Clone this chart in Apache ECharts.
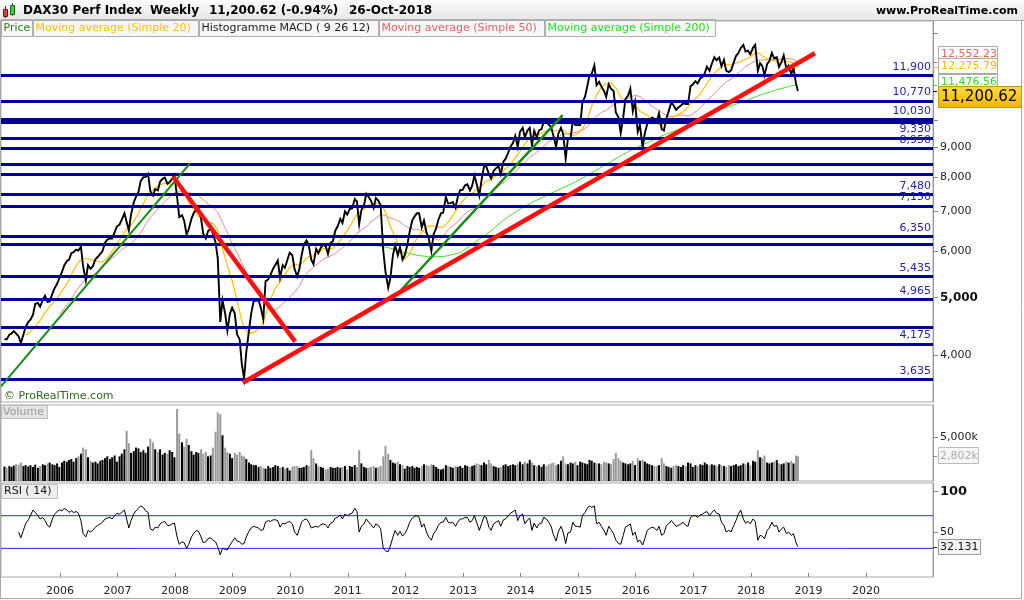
<!DOCTYPE html>
<html><head><meta charset="utf-8">
<script src="https://cdn.jsdelivr.net/npm/echarts@6/dist/echarts.min.js"></script>
<style>html,body{margin:0;padding:0;background:#fff;}#c{width:1024px;height:600px;}</style>
</head><body><div id="c"></div>
<script>
// ---- DATA (semi-monthly readings from the reference, Jan 2005 .. 26-Oct-2018) ----
const closes = [
4260,4250,4330,4350,4390,4350,4300,4190,4330,4460,4550,4590,4680,4880,4900,4830,4960,5040,4920,4930,5080,5190,5280,5400,
5530,5670,5770,5800,5950,5970,6030,6010,6100,5650,5350,5680,5600,5650,5810,5860,5930,6000,6200,6270,6300,6300,6460,6600,
6650,6780,6950,6720,6500,6920,7250,7410,7550,7880,8000,8010,8100,7580,7450,7640,7600,7860,7950,7990,7800,7850,7950,8070,
7400,6850,6900,6750,6400,6530,6800,6950,7050,7100,6800,6420,6300,6480,6550,6420,6200,5830,4550,4950,4700,4400,4700,4810,
4700,4340,4250,3850,3650,4050,4400,4700,4940,4940,4950,4810,4600,5330,5370,5460,5600,5680,5780,5410,5680,5620,5800,5960,
5900,5600,5430,5600,5900,6150,6250,6140,5800,5700,6050,5950,6080,6150,6110,5930,6200,6230,6500,6600,6800,6690,7000,6914,
7070,7080,7350,7270,6660,7040,7180,7500,7400,7300,7100,7380,7300,7160,6000,5530,5200,5400,5900,6140,5900,6090,5800,5900,
6150,6460,6760,6860,6950,6950,6580,6760,6450,6300,6000,6400,6550,6770,6950,6970,7410,7220,7230,7260,7100,7400,7610,7610,
7750,7780,7600,7740,8050,7800,7450,7900,8350,8350,8100,7960,8200,8280,8350,8100,8500,8600,8800,9000,9150,9400,9000,9550,
9700,9350,9600,9700,9050,9590,9350,9600,9650,9940,9920,9830,9720,9400,9010,9470,9700,9470,8600,9300,9300,9980,9800,9800,
9800,10700,10960,11400,11900,11970,12370,11450,11600,11400,11200,10940,11500,11300,11200,10300,10100,9500,10100,10850,11000,11300,10340,10740,
9550,9800,8970,9500,9830,9970,10100,10050,9950,10260,9650,9600,10060,10340,10710,10590,10400,10500,10580,10670,10640,10640,11400,11480,
11630,11530,11760,11830,12000,12310,12110,12450,12770,12620,12750,12330,12640,12120,12050,12140,12520,12830,12990,13230,13400,13060,13100,12920,
13250,13400,12110,12480,12350,11900,12440,12580,12990,12720,12770,12300,12540,12860,12210,12360,11960,12250,11520,11200.62
];
const volumes = [ // thousands
1650,1500,1700,1600,1750,1900,1850,2100,1700,1800,1650,1800,1600,1850,1500,1700,1900,1800,2000,2100,1900,1800,2000,1600,
2100,2300,2200,2400,2500,2200,2600,2800,3100,3800,3600,2700,2300,2100,2200,2000,2300,2400,2600,2800,2500,2700,2900,2200,
2800,3100,3600,5700,4300,3200,3400,3800,3700,3300,3500,3200,3900,4800,4400,3600,3300,3600,3000,3200,3100,3500,3300,2700,
8200,5400,4400,3900,4800,4100,3400,3000,3300,3200,3600,3100,3300,2800,2900,3800,5600,7800,7600,5200,3800,3300,3100,2600,
3200,3000,3300,2900,2800,2500,2100,1900,1800,1800,1600,1700,1500,1400,1700,1500,1600,1800,1700,1500,1600,1400,1500,1200,
1600,1700,1700,1500,1500,1600,1800,1700,3500,2600,2000,1700,1600,1500,1300,1400,1600,1500,1500,1600,1500,1600,1700,1300,
1700,1600,1800,1600,3500,2000,1600,1500,1500,1600,1700,1500,1600,1700,2800,4000,3100,2400,2100,2000,2200,1900,1800,1400,
1700,1600,1700,1500,1600,1500,1700,1900,1800,1700,1900,1800,1600,1400,1300,1400,1800,1700,1600,1500,1700,1600,1700,1500,
1800,1700,1600,1700,1800,2000,1900,1800,2100,1900,2400,2000,1700,1600,1500,1600,1800,1900,1700,1800,1900,1800,2000,2200,
1900,2200,2000,2400,2100,1800,1700,1800,1600,1900,1700,1900,2000,2100,1800,1900,2300,2800,2000,1900,2100,2000,2200,1800,
2200,2100,2000,1900,2400,2300,2100,2000,2000,1900,2200,2100,2000,1900,2500,3200,2600,2300,2100,2000,1900,2000,2300,1800,
2600,2300,2400,2200,2000,1900,1800,1700,1700,1800,2600,2000,1700,1600,1500,1700,1800,1700,1600,1800,1700,2100,2000,1600,
1800,1700,1900,1800,2100,1900,1800,1900,1800,1700,1900,1800,1700,1600,1800,1700,1800,1900,1700,1800,2000,1900,2100,1800,
2300,2200,3500,2700,2600,2900,2100,2000,2100,2200,2400,2000,1900,2000,2200,2100,2300,2000,2900,2802
];
const rsiValues = [ // from Apr 2005 (semi-monthly)
50,43,52,60,65,70,77,74,70,66,68,64,58,56,66,72,75,77,
76,79,77,74,76,74,75,73,64,48,44,52,50,52,56,58,60,62,66,67,68,66,70,73,
72,74,77,66,55,64,72,76,79,82,80,76,74,54,52,56,55,60,62,63,58,58,60,61,
44,35,38,37,30,35,44,48,52,51,44,37,38,42,43,40,38,32,22,30,29,28,34,38,
43,39,38,35,36,44,51,55,57,56,55,52,53,62,64,63,65,65,64,56,61,60,62,63,
60,50,46,54,62,65,66,62,55,56,57,56,59,60,59,55,61,62,67,68,71,66,72,70,
72,73,79,75,50,57,60,66,62,59,55,60,58,54,30,27,26,33,44,52,46,51,45,48,
54,62,67,69,70,68,56,60,50,44,40,48,52,58,62,62,68,62,61,62,57,62,66,66,
68,68,62,64,70,62,52,60,69,68,56,52,60,62,64,57,65,66,70,73,75,77,64,70,
72,60,65,67,52,61,55,60,61,68,66,62,57,47,39,50,57,50,36,49,50,62,57,57,
56,70,74,79,82,80,82,60,62,57,52,46,57,53,48,40,36,35,46,56,58,60,46,50,
38,40,34,42,52,54,56,55,52,57,46,48,58,60,64,61,57,58,60,62,58,57,68,70,
70,68,71,72,74,75,70,74,77,73,72,62,58,50,52,50,58,64,72,77,66,61,63,60,
66,63,40,46,45,42,52,55,62,57,58,50,54,56,48,50,46,48,37,32.131
];
const ma20Values = [ // monthly from May 2005
4321,4384,4472,4571,4722,4828,4941,5053,
5200,5357,5564,5741,5833,5816,5784,5759,5748,5835,5992,6173,
6349,6523,6633,6839,7076,7334,7535,7687,7767,7818,7782,7816,
7732,7551,7250,7060,6873,6770,6683,6687,6515,6050,5673,5348,
4955,4562,4390,4355,4390,4462,4665,4970,5188,5319,5473,5636,
5703,5678,5764,5873,5888,5935,6055,6054,6058,6177,6329,6497,
6708,6927,7003,7122,7201,7234,7218,6987,6599,6333,6084,5808,
5914,6196,6382,6517,6619,6615,6585,6587,6716,6893,7086,7276,
7437,7508,7644,7729,7877,7930,8044,8104,8279,8389,8638,8845,
9105,9325,9409,9449,9553,9623,9605,9589,9611,9465,9418,9466,
9668,9987,10561,11015,11355,11519,11563,11326,10923,10718,10734,10562,
10347,10238,10123,9908,9821,9819,9989,10139,10214,10318,10513,10761,
10947,11216,11522,11850,12101,12293,12410,12401,12480,12563,12670,12796,
13018,12938,12761,12650,12606,12472,12551,12562,12493,12275.79
];
const ma50Values = [ // monthly from Dec 2005
4685,
4797,4918,5050,5198,5315,5394,5464,5545,5625,5735,5832,5931,
6024,6111,6180,6289,6449,6656,6841,6983,7130,7275,7402,7525,
7560,7559,7532,7494,7441,7325,7204,7115,6973,6704,6446,6175,
5958,5727,5513,5319,5141,4997,4886,4797,4766,4836,4913,5006,
5109,5231,5409,5546,5630,5723,5810,5860,5908,5988,6079,6169,
6279,6429,6504,6600,6716,6821,6914,6893,6825,6781,6719,6626,
6562,6520,6522,6466,6384,6304,6257,6355,6515,6617,6722,6868,
6990,7062,7143,7227,7393,7538,7670,7775,7878,8016,8185,8323,
8470,8635,8751,8901,9022,9175,9285,9370,9456,9470,9500,9544,
9605,9732,9950,10153,10295,10395,10548,10674,10700,10817,10943,11005,
10957,10804,10635,10482,10365,10248,10148,10140,10186,10199,10156,10231,
10390,10594,10782,10965,11181,11421,11603,11724,11910,12117,12320,12450,
12587,12627,12633,12653,12661,12662,12686,12700,12658,12552.23
];
const ma200Points = [
['2008-11-14',6118],['2009-03-14',6125],['2009-06-14',6140],['2009-09-14',6150],['2009-12-14',6155],
['2010-03-14',6160],['2010-06-14',6165],['2010-09-14',6165],['2010-12-14',6165],['2011-03-14',6160],
['2011-06-14',6140],['2011-09-14',6080],['2011-12-14',5980],['2012-03-14',5900],['2012-06-14',5860],
['2012-09-14',5880],['2012-12-14',5960],['2013-03-14',6200],['2013-06-14',6450],['2013-09-14',6760],
['2013-12-14',7030],['2014-03-14',7250],['2014-06-14',7450],['2014-09-14',7650],['2014-12-14',7850],
['2015-03-14',8100],['2015-06-14',8370],['2015-09-14',8650],['2015-12-14',8920],['2016-03-14',9150],
['2016-06-14',9400],['2016-09-14',9600],['2016-12-14',9850],['2017-03-14',10150],['2017-06-14',10400],
['2017-09-14',10600],['2017-12-14',10820],['2018-03-14',11050],['2018-06-14',11250],['2018-09-14',11420],
['2018-10-26',11476.56]
];
const levelValues = [11900,10770,10030,9900,9330,8950,8430,8080,7480,7150,6350,6160,5435,4965,4450,4175,3635];
const levelLabeled = [1,1,1,0,1,1,0,0,1,1,1,0,1,1,0,1,1];
const rsiBands = [70,30];
const redTrendUp = [['2009-03-06',3590],['2019-02-11',12970]];
const redTrendDown = [['2007-12-20',8014],['2010-02-01',4213]];
const greenTrend1 = [['2004-12-23',3540],['2008-04-05',8443]];
const greenTrend2 = [['2011-10-25',5015],['2014-09-25',10194]];
const yearTicks = [2006,2007,2008,2009,2010,2011,2012,2013,2014,2015,2016,2017,2018,2019,2020];
const priceTickLabels = [4000,5000,6000,7000,8000,9000];
const priceTickMarks = [4000,5000,6000,7000,8000,9000,10000,14000];
const lastClose = 11200.62, lastVolume = 2802, lastRsi = 32.131;

// ---- helpers ----
const FONT = 'DejaVu Sans';
function halfMonth(i){ if(i===closes.length-1) return Date.UTC(2018,9,26); const m=i>>1; return Date.UTC(2005+Math.floor(m/12), m%12, (i%2)?28:14); }
function monthly(startMonth, k, n){ if(k===n-1) return Date.UTC(2018,9,26); const m=startMonth+k; return Date.UTC(2005+Math.floor(m/12), m%12, 28); }
const fmt = v => v.toLocaleString('en-US');
const xMin = Date.UTC(2004,11,23), xMax = Date.UTC(2021,2,1);
const yearTs = yearTicks.map(y=>Date.UTC(y,0,1));

const priceData = closes.map((v,i)=>[halfMonth(i),v]);
const volData = volumes.map((v,i)=>({value:[halfMonth(i),v], itemStyle:{color:(i>0&&closes[i]<closes[i-1])?'#9a9a9a':'#000'}}));
const rsiData = rsiValues.map((v,i)=>[halfMonth(i+6),v]);
const ma20Data = ma20Values.map((v,k)=>[monthly(4,k,ma20Values.length),v]);
const ma50Data = ma50Values.map((v,k)=>[monthly(11,k,ma50Values.length),v]);
const ma200Data = ma200Points.map(p=>[Date.parse(p[0]),p[1]]);
const toXY = arr => arr.map(p=>[Date.parse(p[0]),p[1]]);

function xAxisCfg(gi, show){
  return {type:'value', gridIndex:gi, min:xMin, max:xMax, scale:true,
    axisLine:{show:false}, splitLine:{show:false},
    axisTick:{show:show, customValues:yearTs, length:4, lineStyle:{color:'#888'}},
    axisLabel:{show:show, customValues:yearTs, formatter:v=>String(new Date(v).getUTCFullYear()),
      color:'#222', fontFamily:FONT, fontSize:11, margin:9}};
}
const trendSeries = (data,color,width)=>({type:'line', xAxisIndex:0, yAxisIndex:0, data:toXY(data), showSymbol:false, silent:true,
  lineStyle:{color, width, cap:'butt'}, z:6, animation:false});

const chart = echarts.init(document.getElementById('c'));
chart.setOption({
  animation:false,
  backgroundColor:'#fff',
  textStyle:{fontFamily:FONT},
  grid:[
    {left:1, top:21, width:932, height:381, show:true, borderColor:'#aaa', borderWidth:1, backgroundColor:'#fff'},
    {left:1, top:405, width:932, height:76, show:true, borderColor:'#aaa', borderWidth:1},
    {left:1, top:483, width:932, height:94, show:true, borderColor:'#aaa', borderWidth:1}
  ],
  xAxis:[xAxisCfg(0,false), xAxisCfg(1,false), xAxisCfg(2,true)],
  yAxis:[
    {type:'log', logBase:10, gridIndex:0, position:'right', min:3330, max:14709,
     axisLine:{show:true, lineStyle:{color:'#999'}}, splitLine:{show:false}, minorTick:{show:false},
     axisTick:{show:true, customValues:priceTickMarks, length:5, lineStyle:{color:'#888'}},
     axisLabel:{customValues:priceTickLabels, margin:7, color:'#222', fontFamily:FONT, fontSize:11,
       formatter:v=> v===5000 ? '{b|5,000}' : fmt(v), rich:{b:{fontWeight:'bold', fontSize:12, color:'#111', fontFamily:FONT}}}},
    {type:'value', gridIndex:1, position:'right', min:0, max:8640,
     axisLine:{show:true, lineStyle:{color:'#999'}}, splitLine:{show:false},
     axisTick:{show:true, customValues:[5000], length:5, lineStyle:{color:'#888'}},
     axisLabel:{customValues:[5000], margin:7, color:'#222', fontFamily:FONT, fontSize:11, formatter:v=>fmt(v)+'k'}},
    {type:'value', gridIndex:2, position:'right', min:-5, max:110,
     axisLine:{show:true, lineStyle:{color:'#999'}}, splitLine:{show:false},
     axisTick:{show:true, customValues:[50,100], length:5, lineStyle:{color:'#888'}},
     axisLabel:{customValues:[50,100], margin:7, color:'#222', fontFamily:FONT, fontSize:11,
       formatter:v=> v===100 ? '{b|100}' : String(v), rich:{b:{fontWeight:'bold', fontSize:13, color:'#111', fontFamily:FONT}}}}
  ],
  series:[
    {name:'MA200', type:'line', xAxisIndex:0, yAxisIndex:0, data:ma200Data, showSymbol:false, silent:true, lineStyle:{color:'#44e02a', width:1}, z:2},
    {name:'MA50', type:'line', xAxisIndex:0, yAxisIndex:0, data:ma50Data, showSymbol:false, silent:true, lineStyle:{color:'#e88a8a', width:1}, z:2},
    {name:'MA20', type:'line', xAxisIndex:0, yAxisIndex:0, data:ma20Data, showSymbol:false, silent:true, lineStyle:{color:'#ffc000', width:1.2}, z:2},
    {name:'Price', type:'line', xAxisIndex:0, yAxisIndex:0, data:priceData, showSymbol:false, silent:true, lineStyle:{color:'#000', width:1.9, join:'miter'}, z:3},
    {name:'Levels', type:'line', xAxisIndex:0, yAxisIndex:0, data:[], silent:true, z:4,
     markLine:{symbol:'none', silent:true, animation:false,
       lineStyle:{color:'#000099', width:3, type:'solid'},
       label:{position:'insideEndTop', distance:[2,3], color:'#2323a8', fontFamily:FONT, fontSize:11, formatter:p=>fmt(p.value)},
       data:levelValues.map((v,i)=>({yAxis:v, label:{show:!!levelLabeled[i]}}))}},
    trendSeries(greenTrend1,'#178a17',2),
    trendSeries(greenTrend2,'#178a17',2.5),
    trendSeries(redTrendDown,'#ff1010',4.5),
    trendSeries(redTrendUp,'#ff1010',4.5),
    {name:'Volume', type:'bar', xAxisIndex:1, yAxisIndex:1, data:volData, barWidth:2, silent:true, z:2},
    ...rsiBands.map(b=>({type:'line', xAxisIndex:2, yAxisIndex:2, data:[[xMin,b],[xMax,b]], showSymbol:false, silent:true,
        lineStyle:{color:'#2a2ae8', width:1}, z:2})),
    {name:'RSI', type:'line', xAxisIndex:2, yAxisIndex:2, data:rsiData, showSymbol:false, silent:true, lineStyle:{color:'#000', width:1}, z:3}
  ]
});

// ---- annotations (title, legend, value boxes) ----
const g = [];
const txt = (x,y,text,font,fill,align)=>({type:'text', silent:true, z:100, style:{x, y, text, font, fill, align:align||'left', verticalAlign:'middle'}});
const rect = (x,y,w,h,fill,stroke,z)=>({type:'rect', silent:true, z:z||99, shape:{x,y,width:w,height:h}, style:{fill, stroke, lineWidth:1}});
const line = (x1,y1,x2,y2,stroke)=>({type:'line', silent:true, z:100, shape:{x1,y1,x2,y2}, style:{stroke, lineWidth:1}});
g.push({type:'rect', silent:true, z:98, shape:{x:0,y:0,width:1024,height:20},
  style:{fill:new echarts.graphic.LinearGradient(0,0,0,1,[{offset:0,color:'#fdfdfd'},{offset:1,color:'#e6e6e6'}]), stroke:'none'}});
g.push(line(0,20.5,1024,20.5,'#aaa'));
g.push(line(5.5,6,5.5,18,'#7a1010'), rect(3.5,9.5,4,7,'#e03a3a','#7a1010',101));
g.push(line(12.5,3,12.5,16,'#106a10'), rect(10.5,5.5,4,9,'#3ccc3c','#106a10',101));
const tf = 'bold 12px "DejaVu Sans"';
g.push(txt(23,11,'DAX30 Perf Index',tf,'#000'), txt(150,11,'Weekly',tf,'#000'),
       txt(209,11,'11,200.62 (-0.94%)',tf,'#000'), txt(349,11,'26-Oct-2018',tf,'#000'));
g.push(txt(1018,11,'www.ProRealTime.com','bold 11px "DejaVu Sans"','#000','right'));
const legend = [
  {x:1.5,w:31,t:'Price',c:'#2e7d1a'},
  {x:33.5,w:165,t:'Moving average (Simple 20)',c:'#ffc000'},
  {x:199.5,w:179,t:'Histogramme MACD ( 9 26 12)',c:'#1a1a1a'},
  {x:379.5,w:165,t:'Moving average (Simple 50)',c:'#e06464'},
  {x:545.5,w:170,t:'Moving average (Simple 200)',c:'#22e022'}
];
legend.forEach(l=>{ g.push(rect(l.x,19.5,l.w,17,'#f7f7f7','#b0b0b0')); g.push(txt(l.x+2,28.5,l.t,'11px "DejaVu Sans"',l.c)); });
g.push(txt(4,396,'\u00a9 ProRealTime.com','11px "DejaVu Sans"','#2f6b1f'));
g.push(rect(1.5,405.5,46,13,'#e4e4e4','#bdbdbd'), txt(3,412,'Volume','11px "DejaVu Sans"','#9a9a9a'));
g.push(rect(1.5,484.5,56,14,'#eeeeee','#bdbdbd'), txt(4,491.5,'RSI ( 14)','11px "DejaVu Sans"','#111'));
g.push(line(0.5,20,0.5,599,'#aaa'), line(1021.5,20,1021.5,599,'#aaa'), line(0,598.5,1022,598.5,'#aaa'));
const yP = v => chart.convertToPixel({yAxisIndex:0}, v);
const boxes = [
  {v:ma50Values[ma50Values.length-1], c:'#e06464', dy:-8},
  {v:ma20Values[ma20Values.length-1], c:'#ffb400', dy:-1},
  {v:ma200Points[ma200Points.length-1][1], c:'#33dd22', dy:-3}
];
boxes.forEach(b=>{
  const y = yP(b.v), cy = y + b.dy;
  g.push(line(933,Math.round(y)+0.5,937,Math.round(y)+0.5,b.c));
  g.push(rect(938.5,Math.round(cy)-7.5,59,15,'#fff','#aaa'));
  g.push(txt(941,cy,b.v.toLocaleString('en-US',{minimumFractionDigits:2}),'11px "DejaVu Sans"',b.c));
});
{
  const y = yP(lastClose), cy = y + 6;
  g.push(line(933,Math.round(y)+0.5,937,Math.round(y)+0.5,'#000'));
  g.push({type:'rect', silent:true, z:101, shape:{x:938.5,y:Math.round(cy)-10.5,width:83,height:21},
    style:{fill:new echarts.graphic.LinearGradient(0,0,0,1,[{offset:0,color:'#ffd84a'},{offset:1,color:'#f2b800'}]), stroke:'#c99a00'}});
  g.push(Object.assign(txt(941,cy+0.5,fmt(lastClose),'15px "DejaVu Sans"','#000'),{z:102}));
}
{
  const y = chart.convertToPixel({yAxisIndex:1}, lastVolume);
  g.push(line(933,Math.round(y)+0.5,937,Math.round(y)+0.5,'#888'));
  g.push(rect(938.5,Math.round(y)-8.5,40,16,'#f6f6f6','#bbb'), txt(940,y,fmt(lastVolume)+'k','11px "DejaVu Sans"','#aaa'));
}
{
  const y = chart.convertToPixel({yAxisIndex:2}, lastRsi);
  g.push(line(933,Math.round(y)+0.5,937,Math.round(y)+0.5,'#333'));
  g.push(rect(938.5,Math.round(y)-7.5,42,15,'#f4f4f4','#999'), txt(940,y,String(lastRsi),'11px "DejaVu Sans"','#111'));
}
chart.setOption({graphic:g});
</script>
</body></html>
